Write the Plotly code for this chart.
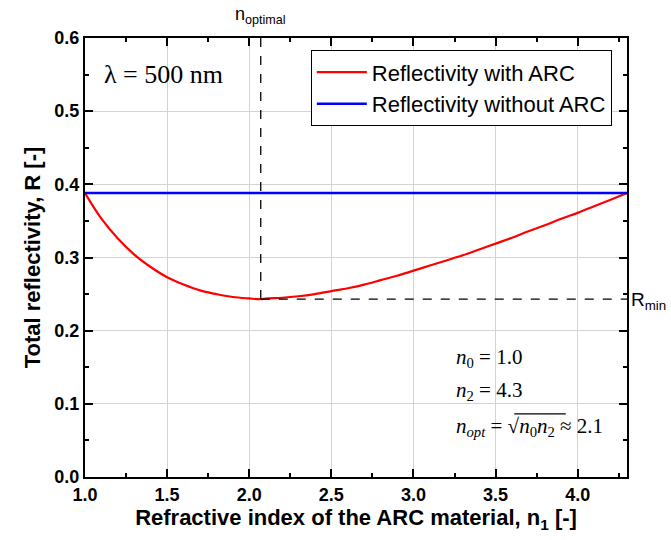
import plotly.graph_objects as go

# Refractive index of the ARC layer
n1 = [1.0, 1.1, 1.2, 1.3, 1.4, 1.5, 1.6, 1.7, 1.8, 1.9, 2.0, 2.07, 2.1, 2.2, 2.3,
      2.4, 2.5, 2.6, 2.7, 2.8, 2.9, 3.0, 3.1, 3.2, 3.3, 3.4, 3.5, 3.6, 3.7, 3.8,
      3.9, 4.0, 4.1, 4.2, 4.3]
# Total reflectivity with ARC
r_arc = [0.388, 0.353, 0.326, 0.304, 0.287, 0.273, 0.263, 0.255, 0.250, 0.246,
         0.244, 0.243, 0.244, 0.245, 0.247, 0.250, 0.254, 0.258, 0.263, 0.269,
         0.275, 0.282, 0.289, 0.296, 0.303, 0.311, 0.319, 0.327, 0.336, 0.344,
         0.353, 0.361, 0.370, 0.379, 0.388]
# Reflectivity of the bare substrate
n_bare = [1.0, 4.3]
r_bare = [0.388, 0.388]
# Optimum point
n_opt = 2.07
r_min = 0.243

x_ticks = [1.0, 1.5, 2.0, 2.5, 3.0, 3.5, 4.0]
y_ticks = [0.0, 0.1, 0.2, 0.3, 0.4, 0.5, 0.6]

fig = go.Figure()
fig.add_trace(go.Scatter(x=n1, y=r_arc, mode="lines", line=dict(color="#ff0000", width=2.2, shape="spline"),
                         name="Reflectivity with ARC"))
fig.add_trace(go.Scatter(x=n_bare, y=r_bare, mode="lines", line=dict(color="#0000ff", width=2.5),
                         name="Reflectivity without ARC"))
# guide lines through the optimum
fig.add_trace(go.Scatter(x=[n_opt, n_opt], y=[0.6, r_min], mode="lines",
                         line=dict(color="black", width=1.3, dash="dash"), showlegend=False, hoverinfo="skip"))
fig.add_trace(go.Scatter(x=[n_opt, 4.3], y=[r_min, r_min], mode="lines",
                         line=dict(color="black", width=1.3, dash="dash"), showlegend=False, hoverinfo="skip"))

axis_common = dict(
    showline=True, linecolor="black", linewidth=2, mirror="ticks",
    ticks="inside", ticklen=8, tickwidth=2, tickcolor="black",
    showgrid=True, gridcolor="#d3d3d3", gridwidth=1, zeroline=False,
    tickfont=dict(family="Liberation Sans", size=18, color="black", weight="bold"),
)
title_font = dict(family="Liberation Sans", size=22, color="black")

fig.update_xaxes(range=[1.0, 4.3], tickvals=x_ticks, ticktext=[f"{v:.1f}" for v in x_ticks],
                 minor=dict(dtick=0.25, tick0=1.0, ticks="inside", ticklen=4, tickwidth=1.5,
                            tickcolor="black", showgrid=False),
                 title=dict(text="<b>Refractive index of the ARC material, n<sub>1</sub> [-]</b>",
                            font=title_font, standoff=6),
                 **axis_common)
fig.update_yaxes(range=[0.0, 0.6], tickvals=y_ticks, ticktext=[f"{v:.1f}" for v in y_ticks],
                 minor=dict(dtick=0.05, tick0=0.0, ticks="inside", ticklen=4, tickwidth=1.5,
                            tickcolor="black", showgrid=False),
                 title=dict(text="<b>Total reflectivity, R [-]</b>", font=title_font, standoff=8),
                 **axis_common)

serif = dict(family="Liberation Serif", size=21, color="black")
notes = [
    dict(x=0.032, y=0.916, xref="paper", yref="paper", text="λ = 500 nm",
         font=dict(family="Liberation Serif", size=26, color="black"), xanchor="left", yanchor="middle"),
    dict(x=n_opt, y=1.0, xref="x", yref="paper", text="n<sub>optimal</sub>",
         font=dict(family="Liberation Sans", size=18, color="black"), yanchor="bottom", yshift=9),
    dict(x=1.0, y=r_min, xref="paper", yref="y", text="R<sub>min</sub>",
         font=dict(family="Liberation Sans", size=19, color="black"), xanchor="left", xshift=2, yshift=-2),
    dict(x=0.68, y=0.271, xref="paper", yref="paper", text="<i>n</i><sub>0</sub> = 1.0",
         font=serif, xanchor="left", yanchor="middle"),
    dict(x=0.68, y=0.196, xref="paper", yref="paper", text="<i>n</i><sub>2</sub> = 4.3",
         font=serif, xanchor="left", yanchor="middle"),
    dict(x=0.68, y=0.114, xref="paper", yref="paper",
         text="<i>n<sub>opt</sub></i> = √<i>n</i><sub>0</sub><i>n</i><sub>2</sub> ≈ 2.1",
         font=serif, xanchor="left", yanchor="middle"),
]
for a in notes:
    a["showarrow"] = False

# vinculum of the square root in the n_opt expression
fig.add_shape(type="line", xref="paper", yref="paper", x0=0.792, x1=0.887, y0=0.144, y1=0.144,
              line=dict(color="black", width=1.2))

fig.update_layout(
    width=671, height=540,
    margin=dict(l=85, r=44, t=38, b=63),
    paper_bgcolor="white", plot_bgcolor="white",
    annotations=notes,
    legend=dict(x=0.972, y=0.972, xanchor="right", yanchor="top",
                bordercolor="black", borderwidth=1, bgcolor="white",
                font=dict(family="Liberation Sans", size=22, color="black"),
                tracegroupgap=0, itemwidth=50),
    showlegend=True,
)

fig.write_html("out.html")
